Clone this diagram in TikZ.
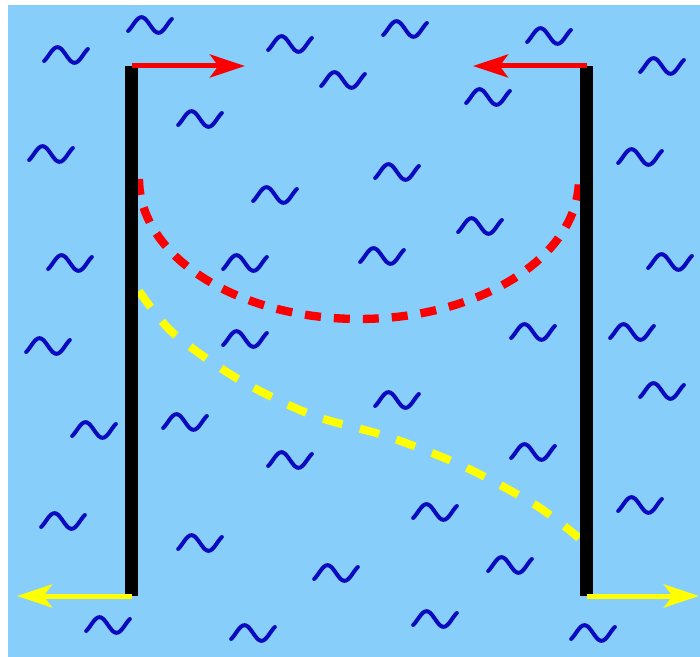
\documentclass[tikz,border=0pt]{standalone}
\usepackage{tikz}
\usetikzlibrary{arrows.meta}
\definecolor{water}{RGB}{135,206,250}
\definecolor{wavecol}{RGB}{10,10,190}
\definecolor{redarr}{RGB}{250,0,0}
\definecolor{yelarr}{RGB}{255,255,0}
\tikzset{
    wave/.pic={\draw[wavestroke] plot[domain=-50:410, samples=40, smooth] ({(\x-180)*0.095}, {-7.8*sin(\x)});}
}
\begin{document}
\begin{tikzpicture}[
    x=0.03cm, y=-0.03cm,
    wavestroke/.style={draw=wavecol, line width=0.12cm, line cap=round},
    wall/.style={line width=0.39cm, black},
    arr/.style={line width=0.15cm, -{Stealth[length=1.05cm, width=0.69cm, inset=0.25cm]}},
    reddash/.style={draw=redarr, line width=0.25cm, dash pattern=on 0.48cm off 0.39cm},
    yeldash/.style={draw=yelarr, line width=0.24cm, dash pattern=on 0.6cm off 0.54cm}
]
\fill[white] (0,0) rectangle (700,657);
\useasboundingbox (0,0) rectangle (700,657);
\fill[water] (8,5) rectangle (700,657);

\foreach \wx/\wy in {66/55, 150/25, 290/44, 343/80, 200/119, 51/154, 275/195, 70/263, 245/263,
    405/29, 549/36, 662/66, 488/97, 640/157, 397/172, 480/226, 382/256, 670/262,
    48/346, 245/339, 94/430, 185/422, 290/460, 63/521, 200/543, 336/573, 108/625, 253/633,
    533/332, 632/332, 662/391, 397/400, 533/452, 435/512, 640/505, 510/565, 435/619, 593/633}
    \pic at (\wx,\wy) {wave};

\coordinate (lefttop) at (131.5,66);
\coordinate (leftbot) at (131.5,596);
\coordinate (righttop) at (586.5,66);
\coordinate (rightbot) at (586.5,596);
\coordinate (redtipL) at (245,66);
\coordinate (redtipR) at (473,66);
\coordinate (yeltipL) at (17,596);
\coordinate (yeltipR) at (699,596);

\draw[reddash] plot[domain=180:360, samples=80] ({359+220*cos(\x)}, {179-140*sin(\x)});
\draw[yeldash] plot[smooth] coordinates {(139,291) (173,333) (238,379) (312,415) (389,437) (465,467) (537,506) (579,538)};

\draw[wall] (lefttop) -- (leftbot);
\draw[wall] (righttop) -- (rightbot);

\draw[arr, redarr] (lefttop) -- (redtipL);
\draw[arr, redarr] (righttop) -- (redtipR);
\draw[arr, yelarr] (leftbot) -- (yeltipL);
\draw[arr, yelarr] (rightbot) -- (yeltipR);
\end{tikzpicture}
\end{document}
